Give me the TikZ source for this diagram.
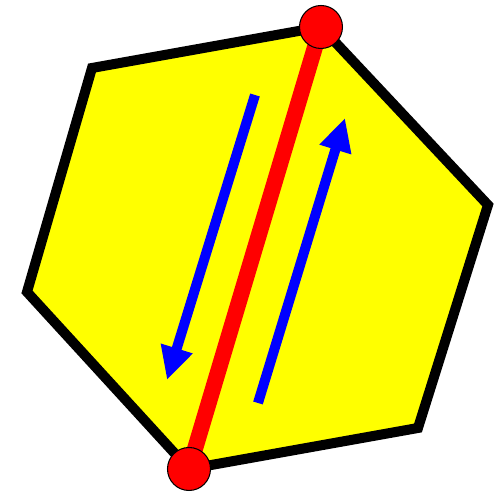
\documentclass[tikz,border=0pt]{standalone}
\usepackage{tikz}
\usetikzlibrary{arrows.meta}
\definecolor{polyfill}{RGB}{255,255,0}
\definecolor{chordred}{RGB}{255,0,0}
\definecolor{flowblue}{RGB}{0,0,255}
\tikzset{
  poly/.style={draw=black, fill=polyfill, line width=1mm, line join=miter},
  chord/.style={draw=chordred, line width=1.6mm},
  endpt/.style={draw=black, fill=chordred, circle, inner sep=0pt, minimum size=4.3mm, line width=0.3pt},
  flow/.style={draw=flowblue, line width=1mm, -{Triangle[length=3.3mm, width=3.1mm]}},
}
\begin{document}
\begin{tikzpicture}
\useasboundingbox (0,0) rectangle (4.98,4.94);
% polygon corners
\coordinate (a) at (3.21,4.67);
\coordinate (b) at (4.88,2.89);
\coordinate (c) at (4.18,0.66);
\coordinate (d) at (1.89,0.25);
\coordinate (e) at (0.27,2.02);
\coordinate (f) at (0.92,4.26);
\path[poly] (a)--(b)--(c)--(d)--(e)--(f)--cycle;
\draw[chord] (a)--(d);
\node[endpt] (top) at (a) {};
\node[endpt] (bot) at (d) {};
% arrows
\coordinate (l1) at (2.55,3.99);
\coordinate (l2) at (1.67,1.14);
\coordinate (r1) at (2.58,0.91);
\coordinate (r2) at (3.45,3.76);
\draw[flow] (l1)--(l2);
\draw[flow] (r1)--(r2);
\end{tikzpicture}
\end{document}
